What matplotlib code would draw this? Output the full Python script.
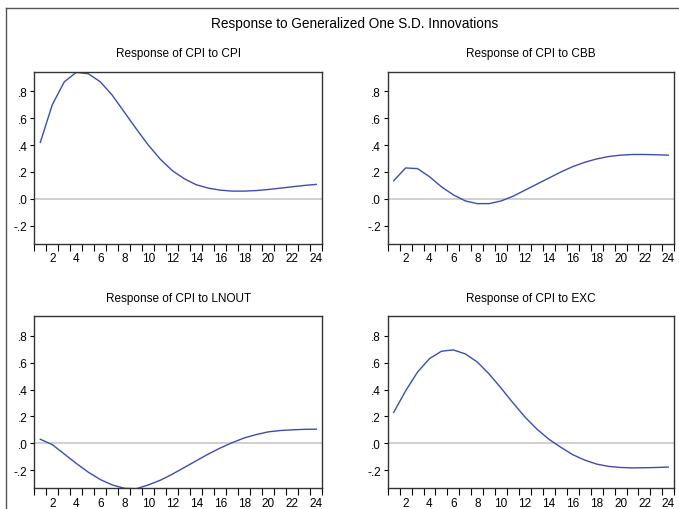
import numpy as np
import matplotlib
matplotlib.use('Agg')
import matplotlib.pyplot as plt
from matplotlib.ticker import MultipleLocator, FixedLocator, FuncFormatter

plt.rcParams.update({'font.family': ['Liberation Sans', 'DejaVu Sans'], 'font.size': 8})

periods = np.arange(1, 25)
titles = ['Response of CPI to CPI', 'Response of CPI to CBB',
          'Response of CPI to LNOUT', 'Response of CPI to EXC']

cpi = [0.42, 0.70, 0.87, 0.94, 0.93, 0.87, 0.77, 0.645, 0.52, 0.40, 0.295, 0.21,
       0.15, 0.105, 0.08, 0.065, 0.058, 0.058, 0.062, 0.07, 0.08, 0.09, 0.10, 0.108]
cbb = [0.135, 0.23, 0.225, 0.165, 0.09, 0.03, -0.015, -0.035, -0.035, -0.015, 0.02, 0.065,
       0.11, 0.155, 0.20, 0.24, 0.272, 0.297, 0.315, 0.325, 0.33, 0.33, 0.328, 0.325]
lnout = [0.03, -0.01, -0.08, -0.15, -0.215, -0.27, -0.31, -0.335, -0.338, -0.31, -0.275, -0.23,
         -0.18, -0.13, -0.08, -0.035, 0.005, 0.04, 0.065, 0.085, 0.095, 0.10, 0.104, 0.105]
exc = [0.23, 0.39, 0.53, 0.63, 0.685, 0.695, 0.665, 0.605, 0.515, 0.41, 0.30, 0.195,
       0.105, 0.03, -0.03, -0.085, -0.125, -0.155, -0.172, -0.18, -0.183, -0.182, -0.18, -0.177]
series = [cpi, cbb, lnout, exc]

yticks = [-0.2, 0.0, 0.2, 0.4, 0.6, 0.8]

def fmt(v, pos):
    s = '%.1f' % v
    return s.replace('0.', '.') if abs(v) < 1 else s

fig = plt.figure(figsize=(6.79, 5.10), dpi=100)
W, H = 679, 510
# axes boxes in pixels: left, top, right, bottom
boxes = [(34.3, 72.7, 322.3, 245), (387.7, 72.7, 674.3, 245),
         (34.3, 317.3, 322.3, 489.3), (387.7, 317.3, 674.3, 489.3)]

for (l, t, r, b), vals, ttl in zip(boxes, series, titles):
    ax = fig.add_axes([l / W, 1 - b / H, (r - l) / W, (b - t) / H])
    ax.axhline(0, color='#c8c8c8', lw=1.2, zorder=1)
    ax.plot(periods, vals, color='#3d4db0', lw=1.0, zorder=2)
    ax.set_xlim(0.5, 24.5)
    ax.set_ylim(-0.335, 0.945)
    ax.xaxis.set_major_locator(FixedLocator(range(2, 25, 2)))
    ax.xaxis.set_minor_locator(MultipleLocator(1, offset=0.5))
    ax.tick_params(axis='x', which='major', length=0, pad=6, labelsize=8.5)
    ax.tick_params(axis='x', which='minor', length=5, width=0.8, direction='out')
    ax.yaxis.set_major_locator(FixedLocator(yticks))
    ax.yaxis.set_major_formatter(FuncFormatter(fmt))
    ax.tick_params(axis='y', length=3, width=0.8, direction='out', pad=2, labelsize=8.5)
    for sp in ax.spines.values():
        sp.set_color('#333333')
        sp.set_linewidth(1.0)
    ax.set_title(ttl, fontsize=8.5, pad=11)

fig.text(355 / W, 1 - 24 / H, 'Response to Generalized One S.D. Innovations',
         ha='center', va='center', fontsize=9.8)
fig.add_artist(plt.Line2D([6 / W, 6 / W], [0, 1 - 9 / H], color='#555555', lw=1.0))
fig.add_artist(plt.Line2D([6 / W, 1], [1 - 9 / H, 1 - 9 / H], color='#555555', lw=1.0))

fig.savefig('out.png', dpi=100, facecolor='white')
